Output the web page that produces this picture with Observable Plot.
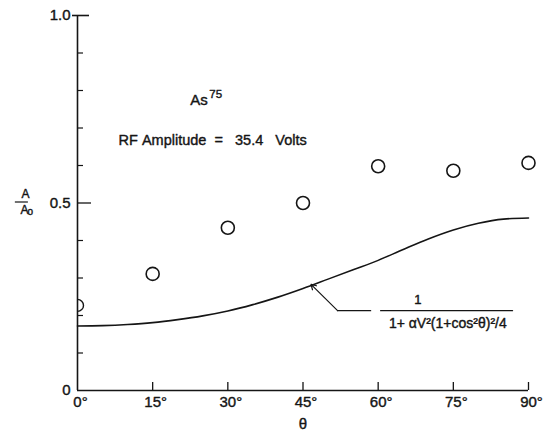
<!DOCTYPE html>
<html>
<head>
<meta charset="utf-8">
<script src="https://cdn.jsdelivr.net/npm/d3@7"></script>
<script src="https://cdn.jsdelivr.net/npm/@observablehq/plot@0.6"></script>
<style>
  html, body { margin: 0; padding: 0; background: #fff; }
  #chart svg { display: block; }
</style>
</head>
<body>
<div id="chart"></div>
<script>
// Measured points (open circles)
const theta = [0, 15, 30, 45, 60, 75, 90];
const ratio = [0.227, 0.311, 0.434, 0.500, 0.598, 0.586, 0.607];

// Curve
const curveTheta = [0, 5, 10, 15, 20, 25, 30, 35, 40, 45, 50, 55, 60, 65, 70, 75, 80, 85, 90];
const curveRatio = [0.172, 0.173, 0.176, 0.181, 0.189, 0.199, 0.212, 0.229, 0.249, 0.272, 0.297, 0.322, 0.347, 0.376, 0.404, 0.428, 0.446, 0.457, 0.460];

// Tick labels
const yTickValues = [0, 0.5, 1.0];
const yTickLabels = ["0", "0.5", "1.0"];
const yMinorTicks = [0.1, 0.2, 0.3, 0.4, 0.6, 0.7, 0.8, 0.9];
const xTickValues = [0, 15, 30, 45, 60, 75, 90];
const xTickLabels = ["0°", "15°", "30°", "45°", "60°", "75°", "90°"];

// Texts
const elementText = "As";
const massText = "75";
const rfText = "RF\u00a0Amplitude\u00a0\u00a0=\u00a0\u00a0\u00a035.4\u00a0\u00a0\u00a0Volts";
const numeratorText = "1";
const denominatorText = "1+ αV²(1+cos²θ)²/4";
const xTitle = "θ";

const W = 543, H = 432;
const mL = 77, mR = 15, mT = 15, mB = 42;
const frameW = W - mL - mR, frameH = H - mT - mB;
const font = "'Liberation Sans', Arial, sans-serif";
const ink = "#151515";
const txt = {fill: ink, stroke: ink, strokeWidth: 0.4};

const pts = theta.map((t, i) => ({theta: t, ratio: ratio[i]}));
const curve = curveTheta.map((t, i) => ({theta: t, ratio: curveRatio[i]}));

const chart = Plot.plot({
  width: W,
  height: H,
  marginLeft: mL,
  marginRight: mR,
  marginTop: mT,
  marginBottom: mB,
  x: {domain: [0, 90], axis: null},
  y: {domain: [0, 1], axis: null},
  style: {fontFamily: font, background: "#fff", color: ink},
  marks: [
    // axis lines
    Plot.ruleX([0], {y1: 0, y2: 1, stroke: ink, strokeWidth: 1.6}),
    Plot.ruleY([0], {x1: 0, x2: 90, stroke: ink, strokeWidth: 1.6}),
    // y ticks
    Plot.tickY(yMinorTicks, {y: d => d, stroke: ink, strokeWidth: 1.2, insetRight: frameW - 6}),
    Plot.tickY([0.5], {y: d => d, stroke: ink, strokeWidth: 1.3, insetRight: frameW - 14}),
    Plot.tickY([1.0], {y: d => d, stroke: ink, strokeWidth: 1.6, insetLeft: -5, insetRight: frameW - 12}),
    // x ticks
    Plot.tickX(xTickValues.slice(1), {x: d => d, stroke: ink, strokeWidth: 1.3, insetTop: frameH - 8}),
    // y tick labels
    Plot.text(yTickValues, {x: () => 0, y: d => d, text: (d, i) => yTickLabels[i], textAnchor: "end", dx: -7, fontSize: 15, ...txt}),
    // x tick labels
    Plot.text(xTickValues, {x: d => d, y: () => 0, text: (d, i) => xTickLabels[i], dx: 3, dy: 12, fontSize: 15, ...txt}),
    // x title
    Plot.text([xTitle], {x: () => 45, y: () => 0, text: d => d, dy: 34, fontSize: 15, ...txt}),
    // y title A / A0
    Plot.text(["A"], {frameAnchor: "left", y: () => 0.5, text: d => d, dx: -56, dy: -9, fontSize: 12, ...txt}),
    Plot.ruleY([0.5], {x1: -12.4, x2: -9.8, stroke: ink, strokeWidth: 1.2, dy: -1}),
    Plot.text(["A"], {frameAnchor: "left", y: () => 0.5, text: d => d, dx: -57, dy: 7, fontSize: 12, ...txt}),
    Plot.text(["o"], {frameAnchor: "left", y: () => 0.5, text: d => d, dx: -50, dy: 9, fontSize: 10, ...txt}),
    // annotations
    Plot.text([elementText], {x: () => 22.5, y: () => 0.775, text: d => d, textAnchor: "start", fontSize: 15, ...txt}),
    Plot.text([massText], {x: () => 22.5, y: () => 0.775, text: d => d, textAnchor: "start", dx: 19, dy: -6, fontSize: 11.5, ...txt}),
    Plot.text([rfText], {x: () => 8.2, y: () => 0.666, text: d => d, textAnchor: "start", fontSize: 14.5, ...txt}),
    // theoretical curve
    Plot.line(curve, {x: "theta", y: "ratio", curve: "monotone-x", stroke: ink, strokeWidth: 1.6}),
    // leader and arrow
    Plot.line([[58.5, 0.213], [51.9, 0.213]], {x: d => d[0], y: d => d[1], stroke: ink, strokeWidth: 1.2}),
    Plot.arrow([[51.9, 0.213, 46.6, 0.283]], {x1: d => d[0], y1: d => d[1], x2: d => d[2], y2: d => d[3], stroke: ink, strokeWidth: 1.2, headLength: 7}),
    // fraction
    Plot.line([[60.5, 0.213], [86.8, 0.213]], {x: d => d[0], y: d => d[1], stroke: ink, strokeWidth: 1.4}),
    Plot.text([numeratorText], {x: () => 67.9, y: () => 0.213, text: d => d, dy: -11, fontSize: 13, ...txt}),
    Plot.text([denominatorText], {x: () => 73.9, y: () => 0.213, text: d => d, dy: 13, fontSize: 14, ...txt}),
    // data points
    Plot.dot(pts.filter(d => d.theta > 0), {x: "theta", y: "ratio", r: 6.5, stroke: ink, strokeWidth: 1.6, fill: "none"}),
    Plot.dot(pts.filter(d => d.theta === 0), {x: "theta", y: "ratio", r: 6, stroke: ink, strokeWidth: 1.4, fill: "none", clip: true})
  ]
});

document.getElementById("chart").appendChild(chart);
</script>
</body>
</html>
